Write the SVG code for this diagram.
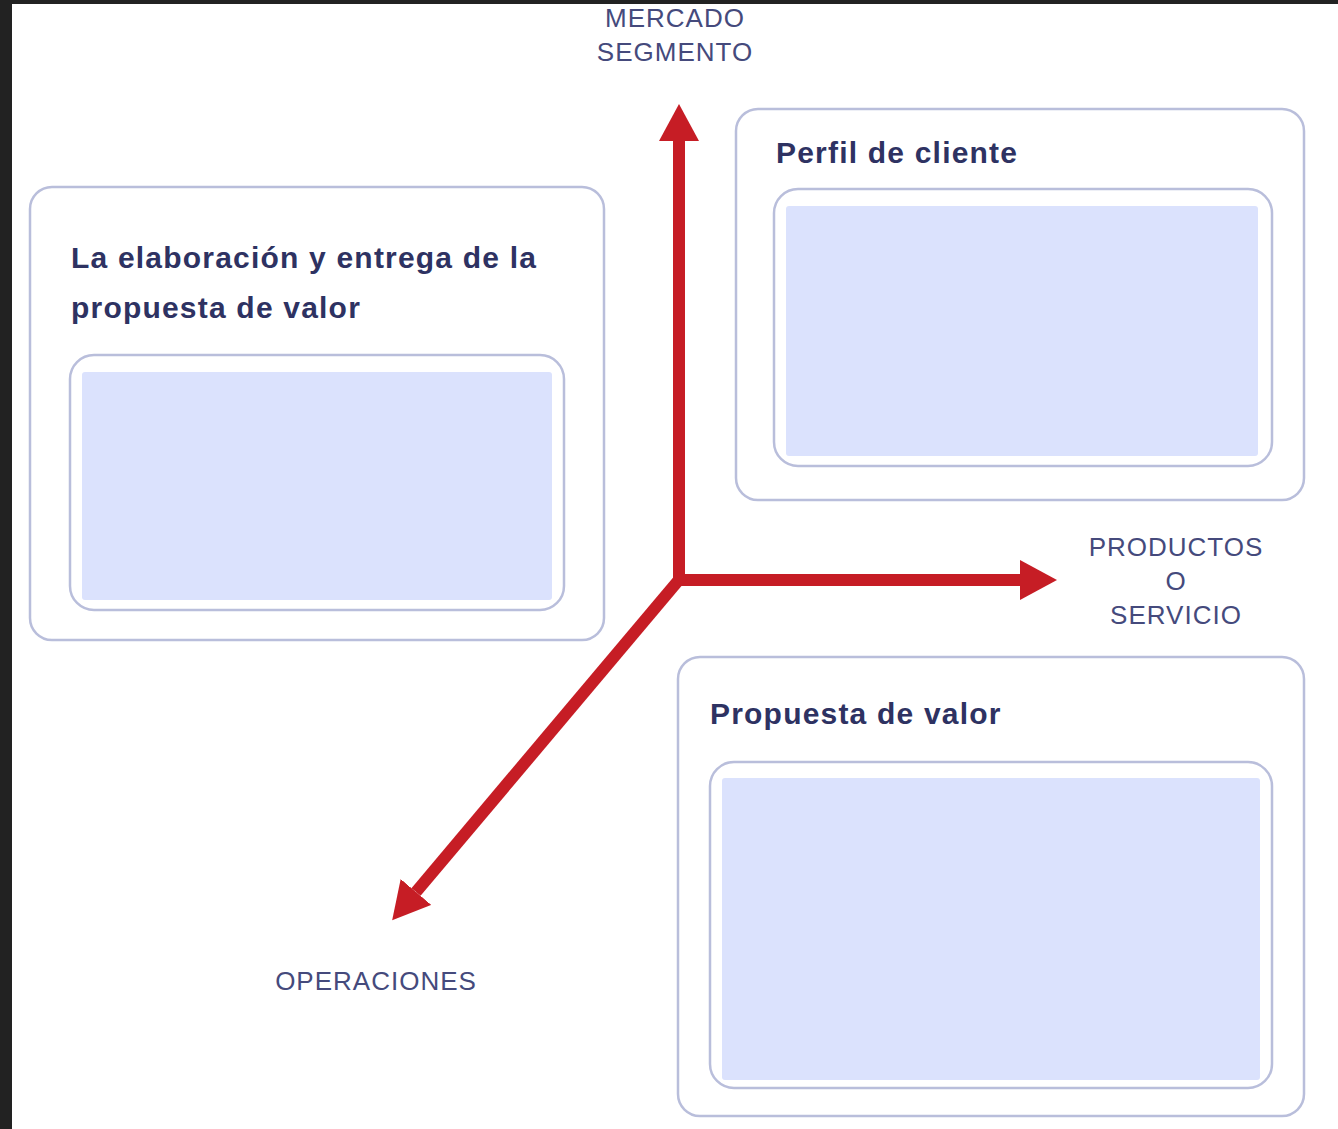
<svg xmlns="http://www.w3.org/2000/svg" width="1338" height="1129" viewBox="0 0 1338 1129">
  <defs>
    <style>
      .outer { fill: #ffffff; stroke: #b9bedb; stroke-width: 2.5; }
      .inner { fill: #ffffff; stroke: #b9bedb; stroke-width: 2.5; }
      .fillb { fill: #dbe2fd; }
      .title { font-family: "Liberation Sans", Arial, sans-serif; font-weight: bold; font-size: 30px; letter-spacing: 1.2px; fill: #2e3262; }
      .axis { font-family: "Liberation Sans", Arial, sans-serif; font-size: 26px; fill: #454a7c; letter-spacing: 1px; text-anchor: middle; }
      .shaft { stroke: #c61d25; stroke-width: 12; fill: none; stroke-linecap: butt; }
    </style>
    <marker id="head" markerUnits="userSpaceOnUse" markerWidth="38" markerHeight="40" refX="0" refY="20" orient="auto" viewBox="0 0 38 40">
      <path d="M0,0 L37,20 L0,40 Z" fill="#c61d25"/>
    </marker>
  </defs>
  <rect x="0" y="0" width="1338" height="1129" fill="#222222"/>
  <rect x="12" y="4" width="1326" height="1125" fill="#ffffff"/>

  <g id="node-elaboracion">
    <rect class="outer" x="30" y="187" width="574" height="453" rx="22"/>
    <text class="title" x="71" y="268">La elaboración y entrega de la</text>
    <text class="title" x="71" y="318">propuesta de valor</text>
    <rect class="inner" x="70" y="355" width="494" height="255" rx="24"/>
    <rect class="fillb" x="82" y="372" width="470" height="228" rx="3"/>
  </g>

  <g id="node-perfil">
    <rect class="outer" x="736" y="109" width="568" height="391" rx="22"/>
    <text class="title" x="776" y="163">Perfil de cliente</text>
    <rect class="inner" x="774" y="189" width="498" height="277" rx="24"/>
    <rect class="fillb" x="786" y="206" width="472" height="250" rx="3"/>
  </g>

  <g id="node-propuesta">
    <rect class="outer" x="678" y="657" width="626" height="459" rx="22"/>
    <text class="title" x="710" y="724">Propuesta de valor</text>
    <rect class="inner" x="710" y="762" width="562" height="326" rx="24"/>
    <rect class="fillb" x="722" y="778" width="538" height="302" rx="3"/>
  </g>

  <g id="connectors">
    <line class="shaft" x1="679" y1="586" x2="679" y2="141" marker-end="url(#head)"/>
    <line class="shaft" x1="673" y1="580" x2="1020" y2="580" marker-end="url(#head)"/>
    <line class="shaft" x1="683" y1="575" x2="416" y2="892" marker-end="url(#head)"/>
  </g>

  <g id="labels">
    <text class="axis" x="675" y="27">MERCADO</text>
    <text class="axis" x="675" y="61">SEGMENTO</text>
    <text class="axis" x="1176" y="556">PRODUCTOS</text>
    <text class="axis" x="1176" y="590">O</text>
    <text class="axis" x="1176" y="624">SERVICIO</text>
    <text class="axis" x="376" y="990">OPERACIONES</text>
  </g>
</svg>
